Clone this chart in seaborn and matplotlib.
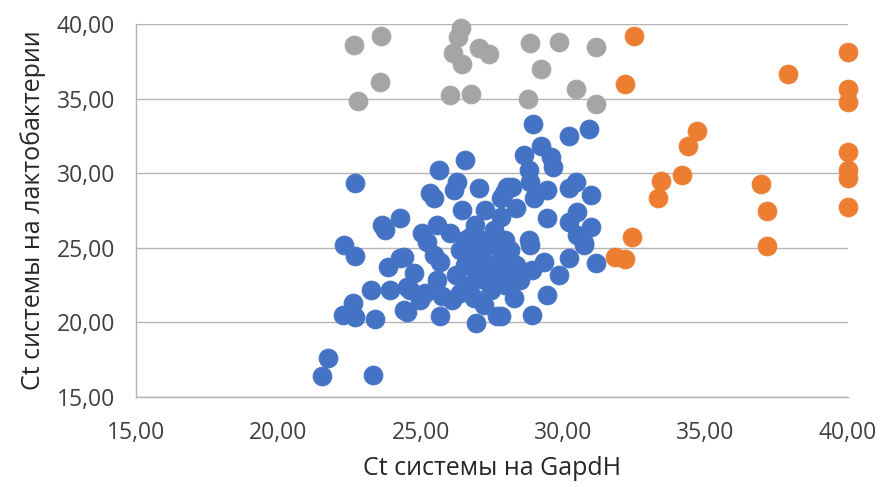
import matplotlib
matplotlib.use("Agg")
import matplotlib.pyplot as plt
import matplotlib.ticker as mticker
import numpy as np
import pandas as pd
import seaborn as sns

# Ct values: GapdH (x) vs. lactobacteria (y)
blue_x = [21.53, 21.76, 23.34, 22.27, 22.62, 22.70, 23.40, 23.26, 23.93, 23.84,
          24.28, 22.29, 22.70, 24.40, 24.50, 22.70, 23.64, 23.76, 24.26, 26.54,
          25.65, 26.28, 26.16, 27.06, 25.31, 25.45, 27.80, 28.03, 26.45, 27.27,
          25.57, 25.05, 26.04, 25.22, 26.74, 27.56, 27.80, 28.93, 30.20, 30.90,
          29.23, 28.64, 29.56, 29.65, 28.79, 28.85, 28.21, 29.44, 30.44, 30.20,
          30.96, 28.97, 28.33, 29.44, 30.50, 30.20, 30.96, 30.50, 28.79, 27.97,
          30.73, 27.91, 31.14, 30.20, 30.73, 29.85, 29.44, 29.32, 28.91, 28.91,
          28.27, 27.80, 28.09, 28.85, 28.50, 28.03, 25.69, 26.95, 27.68, 24.52,
          24.75, 24.63, 25.57, 25.75, 26.39, 26.86, 27.21, 25.45, 24.40, 25.16,
          26.74, 27.10, 27.45, 27.80, 26.57, 26.92, 27.27, 27.62, 27.97, 27.45,
          26.74, 27.10, 27.62, 28.15, 28.33, 26.39, 27.97, 26.57, 27.27, 27.80,
          26.92, 25.69, 26.22, 26.11, 24.99]
blue_y = [16.42, 17.61, 16.49, 20.51, 21.29, 20.36, 20.24, 22.14, 22.14, 23.70,
          24.31, 25.20, 24.46, 20.84, 22.40, 29.33, 26.54, 26.20, 26.99, 30.89,
          30.22, 29.44, 28.88, 28.99, 28.66, 28.32, 28.32, 29.10, 27.54, 27.54,
          26.54, 25.98, 25.98, 25.42, 25.75, 26.20, 27.09, 33.30, 32.50, 32.95,
          31.83, 31.23, 31.11, 30.44, 30.22, 29.44, 29.10, 28.88, 29.44, 28.99,
          28.55, 28.32, 27.66, 26.99, 27.43, 26.76, 26.42, 25.87, 25.53, 25.53,
          25.31, 28.66, 23.97, 24.31, 25.20, 23.19, 21.85, 24.08, 23.52, 20.51,
          21.63, 20.40, 24.64, 25.20, 22.85, 22.63, 20.40, 19.95, 20.40, 20.73,
          23.30, 22.18, 22.85, 21.74, 21.96, 21.63, 21.18, 24.53, 24.41, 21.96,
          24.86, 24.53, 25.20, 24.19, 23.86, 23.52, 22.85, 23.19, 23.52, 22.18,
          22.52, 25.53, 25.87, 24.86, 23.86, 24.86, 22.52, 25.53, 24.06, 25.00,
          26.54, 24.06, 23.19, 21.51, 21.51]

orange_x = [32.49, 32.17, 37.88, 40.00, 40.00, 40.00, 34.71, 34.38, 34.16, 33.42,
            33.34, 36.94, 37.14, 37.14, 40.00, 40.00, 40.00, 40.00, 32.43, 31.82,
            32.17]
orange_y = [39.22, 35.98, 36.63, 38.15, 35.65, 34.80, 32.85, 31.85, 29.91, 29.48,
            28.32, 29.28, 27.47, 25.15, 31.41, 30.22, 29.66, 27.76, 25.75, 24.41,
            24.24]

grey_x = [22.67, 23.60, 23.56, 22.78, 26.42, 26.30, 26.14, 26.45, 27.04, 27.39,
          26.04, 26.77, 28.85, 29.85, 29.23, 28.76, 30.45, 31.17, 31.17]
grey_y = [38.59, 39.22, 36.14, 34.86, 39.71, 39.15, 38.08, 37.32, 38.37, 37.97,
          35.24, 35.29, 38.71, 38.77, 36.99, 34.96, 35.65, 38.44, 34.64]

x_ticks = [15, 20, 25, 30, 35, 40]
y_ticks = [15, 20, 25, 30, 35, 40]

df = pd.concat([
    pd.DataFrame({"gapdh": blue_x, "lacto": blue_y, "group": "a"}),
    pd.DataFrame({"gapdh": orange_x, "lacto": orange_y, "group": "b"}),
    pd.DataFrame({"gapdh": grey_x, "lacto": grey_y, "group": "c"}),
], ignore_index=True)

sns.set_theme(style="white")
plt.rcParams["font.family"] = ["Open Sans", "DejaVu Sans"]

fig = plt.figure(figsize=(8.8, 4.87), dpi=100)
ax = fig.add_axes([0.1545, 0.1848, 0.8091, 0.7659])

palette = {"a": "#4472C4", "b": "#ED7D31", "c": "#A5A5A5"}
for grp, col in palette.items():
    sns.scatterplot(data=df[df["group"] == grp], x="gapdh", y="lacto",
                    color=col, s=185, edgecolor=col, linewidth=0.6,
                    legend=False, ax=ax, zorder=3, clip_on=False)

ax.set_xlim(15, 40)
ax.set_ylim(15, 40)
ax.set_xticks(x_ticks)
ax.set_yticks(y_ticks)
fmt = mticker.FuncFormatter(lambda v, _: f"{v:.2f}".replace(".", ","))
ax.xaxis.set_major_formatter(fmt)
ax.yaxis.set_major_formatter(fmt)

ax.grid(axis="y", color="#B4B4B4", linewidth=1.0, zorder=0)
ax.grid(axis="x", visible=False)
for side in ("top", "right"):
    ax.spines[side].set_visible(False)
for side in ("left", "bottom"):
    ax.spines[side].set_color("#B4B4B4")
    ax.spines[side].set_linewidth(1.0)

ax.tick_params(axis="both", which="major", direction="out", length=6,
               width=1.0, color="#B4B4B4", labelsize=16.5,
               labelcolor="#404040", pad=9)
ax.tick_params(axis="x", pad=11)

ax.set_xlabel("Ct системы на GapdH", fontsize=18, color="#262626", labelpad=8)
ax.set_ylabel("Ct системы на лактобактерии", fontsize=18, color="#262626",
              labelpad=8)

fig.savefig("out.png", dpi=100)
